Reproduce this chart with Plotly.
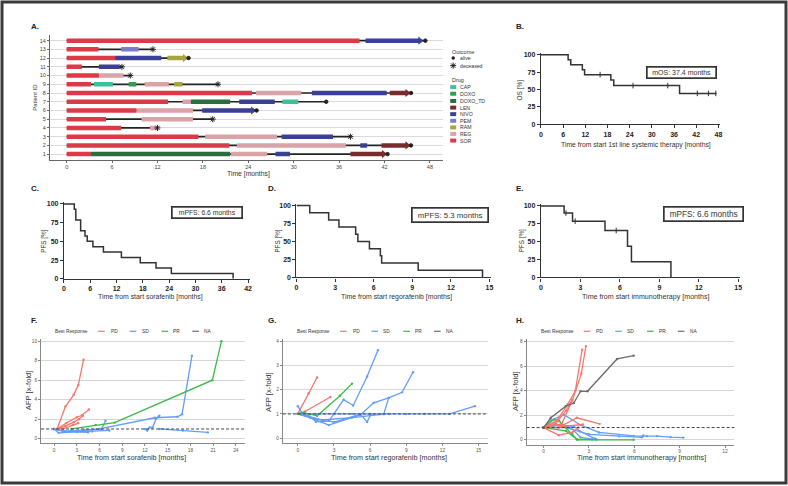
import plotly.graph_objects as go

W, H = 788, 486
FONT = "Liberation Sans, Arial, Helvetica, sans-serif"

# ================= Panel A: swimmer plot =================
patient_ids = list(range(1, 15))
end_time = [42.4, 45.5, 37.5, 12.0, 19.3, 25.1, 34.3, 45.5, 20.0, 8.4, 7.3, 16.1, 11.4, 47.4]
outcome = ["alive", "alive", "deceased", "deceased", "deceased", "alive", "alive",
           "alive", "deceased", "deceased", "deceased", "alive", "deceased", "alive"]
seg_patient = [1, 1, 1, 1, 1, 2, 2, 2, 2, 3, 3, 3, 4, 4, 5, 5, 6, 6, 6,
               7, 7, 7, 7, 7, 8, 8, 8, 8, 9, 9, 9, 9, 9, 10, 10, 11, 11,
               12, 12, 12, 13, 13, 14, 14]
seg_drug = ["SOR", "DOXO_TD", "REG", "NIVO", "LEN",
            "SOR", "REG", "NIVO", "LEN",
            "SOR", "REG", "NIVO",
            "SOR", "REG",
            "SOR", "REG",
            "SOR", "REG", "NIVO",
            "SOR", "REG", "DOXO_TD", "NIVO", "CAP",
            "SOR", "REG", "NIVO", "LEN",
            "SOR", "CAP", "DOXO", "REG", "RAM",
            "SOR", "REG",
            "SOR", "NIVO",
            "SOR", "NIVO", "RAM",
            "SOR", "PEM",
            "SOR", "NIVO"]
seg_start = [0, 3.2, 21.7, 27.6, 37.5,
             0, 22.5, 38.8, 41.6,
             0, 18.3, 28.4,
             0, 11.0,
             0, 9.9,
             0, 9.2, 17.9,
             0, 15.3, 16.4, 22.8, 28.5,
             0, 25.0, 32.4, 42.7,
             0, 3.6, 8.2, 10.3, 14.2,
             0, 4.25,
             0, 4.25,
             0, 6.4, 13.3,
             0, 7.2,
             0, 39.5]
seg_end = [3.2, 21.6, 26.5, 29.5, 41.9,
           21.5, 36.9, 39.7, 45.0,
           17.4, 27.8, 35.2,
           7.2, 11.9,
           5.2, 16.7,
           9.2, 16.7, 24.6,
           13.4, 16.4, 21.6, 27.5, 30.6,
           24.5, 31.0, 42.3, 45.0,
           3.2, 6.1, 9.2, 13.5, 15.3,
           4.25, 7.5,
           2.0, 7.0,
           6.4, 12.5, 15.6,
           4.2, 9.5,
           38.7, 46.7]
ongoing_patients = [1, 2, 6, 8, 12, 14]
drug_order = ["CAP", "DOXO", "DOXO_TD", "LEN", "NIVO", "PEM", "RAM", "REG", "SOR"]
drug_colors = {"CAP": "#3fbf9b", "DOXO": "#2f9e50", "DOXO_TD": "#2a6e3e", "LEN": "#7a2b2b",
               "NIVO": "#3a3f98", "PEM": "#7b7cc9", "RAM": "#a8a53c", "REG": "#d9a3a8",
               "SOR": "#dc3a46"}

# ================= Panel B: overall survival =================
os_time = [0, 7.35, 8.07, 11.2, 11.8, 18.9, 19.7, 37.5, 47.5]
os_surv = [100, 92.9, 85.7, 78.6, 71.4, 63.5, 55.6, 44.4, 44.4]
os_cens_time = [16.0, 24.9, 34.3, 42.3, 45.3, 47.3]
os_cens_surv = [71.4, 55.6, 55.6, 44.4, 44.4, 44.4]

# ================= Panels C-E: PFS =================
sor_time = [0, 2.35, 2.7, 3.8, 4.8, 5.3, 6.6, 9.0, 13.1, 17.4, 21.0, 24.5, 38.6]
sor_surv = [100, 92.9, 78.6, 64.3, 57.1, 50.0, 42.9, 35.7, 28.6, 21.4, 14.3, 7.1, 0]
reg_time = [0, 1.03, 2.5, 3.3, 4.6, 4.77, 5.67, 6.52, 6.62, 9.46, 14.46]
reg_surv = [100, 90, 80, 70, 60, 50, 40, 30, 20, 10, 0]
io_time = [0, 1.76, 2.4, 4.87, 6.58, 6.88, 9.88]
io_surv = [100, 90.0, 78.75, 65.6, 43.75, 21.9, 0]
io_cens_time = [1.9, 2.6, 5.72]
io_cens_surv = [90.0, 78.75, 65.6]

# ================= Panels F-H: AFP x-fold =================
f_pd_x = [[0.4, 1.5, 2.6, 3.2, 3.9], [0.4, 1.6, 3.0, 3.7, 4.6],
          [0.4, 1.5, 2.6, 3.3, 3.8], [0.4, 1.2, 2.5, 3.2]]
f_pd_y = [[1.0, 3.3, 4.5, 5.5, 8.1], [1.0, 1.6, 2.2, 2.4, 3.0],
          [1.0, 1.3, 1.7, 2.0, 2.35], [1.0, 1.0, 1.4, 1.6]]
f_sd_x = [[0, 0.6, 3.0, 5.0, 7.3], [0, 1.2, 3.0, 4.5],
          [0, 1.2, 4.0, 6.26, 6.8], [1.45, 6.0, 13.3, 16.3, 16.9, 18.2],
          [12.0, 12.3, 12.6, 13.0, 13.5, 13.9], [13.9, 17.0, 20.3]]
f_sd_y = [[1.0, 0.6, 0.7, 0.75, 0.85], [1.0, 0.8, 0.7, 0.65],
          [1.0, 0.75, 0.85, 0.98, 1.85], [0.74, 1.0, 2.15, 2.25, 2.5, 8.5],
          [1.0, 0.85, 1.15, 1.15, 2.1, 2.35], [1.0, 0.85, 0.65]]
f_pr_x = [[2.3, 5.5, 8.0, 20.9, 22.1]]
f_pr_y = [[1.0, 1.4, 1.65, 6.0, 10.0]]

g_pd_x = [[0, 0.9, 1.6], [0, 0.6, 2.7]]
g_pd_y = [[1.0, 1.85, 2.5], [1.0, 1.1, 1.7]]
g_pr_x = [[0, 0.5, 1.6, 3.5, 4.5]]
g_pr_y = [[1.0, 1.05, 0.92, 1.75, 2.25]]
g_sd_x = [[0, 0.35, 1.0, 1.5, 2.0, 2.6, 3.8, 4.6, 5.75, 6.65],
          [0, 1.0, 2.57, 5.19, 6.3, 7.54, 8.65, 9.56],
          [0, 1.5, 3.0, 5.2, 5.75, 6.08],
          [0, 2.0, 4.5, 7.13, 7.54],
          [0, 1.5, 3.0, 4.5, 6.0, 7.5, 9.0, 10.5, 12.6, 14.7]]
g_sd_y = [[1.32, 1.05, 0.9, 0.68, 0.68, 0.71, 1.59, 1.35, 2.54, 3.63],
          [1.0, 0.85, 0.54, 0.96, 1.46, 1.66, 1.89, 2.72],
          [1.0, 0.8, 0.66, 0.99, 0.67, 0.99],
          [1.0, 0.75, 0.85, 0.99, 1.66],
          [1.0, 1.0, 1.0, 1.0, 1.0, 1.0, 1.0, 1.0, 1.0, 1.32]]

h_pd_x = [[0, 0.9, 1.6, 2.1, 2.55], [0, 1.2, 1.9, 2.5, 2.8], [0, 0.9, 1.5, 1.9],
          [0, 1.0, 2.2, 3.7], [0, 1.0, 1.9, 2.3], [0, 0.6, 1.3, 2.6]]
h_pd_y = [[1.0, 1.6, 2.9, 4.0, 7.35], [1.0, 1.3, 3.2, 5.4, 7.65], [1.0, 1.5, 2.4, 3.3],
          [1.0, 1.0, 1.8, 1.3], [1.0, 0.38, 0.6, 1.0], [1.0, 1.25, 1.1, 1.25]]
h_sd_x = [[0, 0.5, 1.35, 2.45, 3.66, 5.96, 6.83, 7.5, 8.4, 9.24],
          [0, 0.8, 1.8, 2.45, 3.2], [0, 1.5, 3.0, 5.0, 6.5, 6.6], [0, 1.2, 2.0, 2.4, 3.4]]
h_sd_y = [[1.0, 1.6, 2.05, 1.2, 0.6, 0.32, 0.3, 0.3, 0.22, 0.18],
          [1.0, 1.3, 1.0, 0.2, 0.05], [1.0, 1.0, 0.45, 0.28, 0.2, 0.35], [1.0, 1.2, 1.1, 0.7, 0.1]]
h_pr_x = [[0, 0.7, 1.03, 1.9, 2.23, 5.96], [0, 1.47, 2.2, 3.5]]
h_pr_y = [[1.0, 1.67, 1.54, 0.46, 0.0, 0.0], [1.0, 0.73, 0.05, 0.02]]
h_na_x = [[0, 0.48, 1.47, 2.0, 2.45, 2.9, 4.86, 5.96]]
h_na_y = [[1.0, 1.8, 2.75, 3.0, 3.96, 3.96, 6.6, 6.87]]

resp_names = ["PD", "SD", "PR", "NA"]
resp_colors = {"PD": "#F8766D", "SD": "#619CFF", "PR": "#3DB84A", "NA": "#6b6b6b"}


# ---------------- helpers ----------------
def dx(a, b):
    return [a / W, b / W]


def dy(top, bottom):
    return [1 - bottom / H, 1 - top / H]


fig = go.Figure()
annotations = []
shapes = []


def ann(x, y, text, size=6, xanchor="center", color="#333", angle=0, bold=False, family=FONT):
    annotations.append(dict(x=x / W, y=1 - y / H, xref="paper", yref="paper", text=text,
                            showarrow=False, xanchor=xanchor, yanchor="middle", textangle=angle,
                            font=dict(size=size, color=color, family=family,
                                      weight="bold" if bold else "normal")))


# ---------------- Panel A traces ----------------
for p, e in zip(patient_ids, end_time):
    fig.add_trace(go.Scatter(x=[0, e], y=[p, p], mode="lines", line=dict(color="#222", width=1.7),
                             xaxis="x", yaxis="y", hoverinfo="skip"))
for d in drug_order:
    xs, ys = [], []
    for p, dd, s, e in zip(seg_patient, seg_drug, seg_start, seg_end):
        if dd == d:
            xs += [s, e, None]
            ys += [p, p, None]
    fig.add_trace(go.Scatter(x=xs, y=ys, mode="lines", line=dict(color=drug_colors[d], width=4.5),
                             xaxis="x", yaxis="y", hoverinfo="skip"))
arr_x, arr_y, arr_c = [], [], []
for p in ongoing_patients:
    idx = [i for i, pp in enumerate(seg_patient) if pp == p][-1]
    arr_x.append(seg_end[idx])
    arr_y.append(p)
    arr_c.append(drug_colors[seg_drug[idx]])
fig.add_trace(go.Scatter(x=arr_x, y=arr_y, mode="markers",
                         marker=dict(symbol="triangle-right", size=7, color=arr_c),
                         xaxis="x", yaxis="y", hoverinfo="skip"))
for kind, sym, sz in [("alive", "circle", 3.5), ("deceased", "asterisk-open", 5)]:
    xs = [e for e, o in zip(end_time, outcome) if o == kind]
    ys = [p for p, o in zip(patient_ids, outcome) if o == kind]
    fig.add_trace(go.Scatter(x=xs, y=ys, mode="markers",
                             marker=dict(symbol=sym, size=sz, color="#222", line=dict(color="#222", width=1)),
                             xaxis="x", yaxis="y", hoverinfo="skip"))

# ---------------- KM traces ----------------
KM = "#333"
for t, s, ax in [(os_time, os_surv, "2"), (sor_time, sor_surv, "3"),
                 (reg_time, reg_surv, "4"), (io_time, io_surv, "5")]:
    fig.add_trace(go.Scatter(x=t, y=s, mode="lines", line=dict(color=KM, width=1.5, shape="hv"),
                             xaxis="x" + ax, yaxis="y" + ax, hoverinfo="skip"))
for t, s, ax in [(os_cens_time, os_cens_surv, "2"), (io_cens_time, io_cens_surv, "5")]:
    fig.add_trace(go.Scatter(x=t, y=s, mode="markers",
                             marker=dict(symbol="line-ns-open", size=4, color=KM,
                                         line=dict(color=KM, width=1)),
                             xaxis="x" + ax, yaxis="y" + ax, hoverinfo="skip", cliponaxis=False))

# ---------------- AFP traces ----------------
afp_sets = [
    ("6", [("PD", f_pd_x, f_pd_y), ("SD", f_sd_x, f_sd_y), ("PR", f_pr_x, f_pr_y)]),
    ("7", [("PD", g_pd_x, g_pd_y), ("SD", g_sd_x, g_sd_y), ("PR", g_pr_x, g_pr_y)]),
    ("8", [("SD", h_sd_x, h_sd_y), ("PR", h_pr_x, h_pr_y), ("PD", h_pd_x, h_pd_y),
           ("NA", h_na_x, h_na_y)]),
]
for ax, groups in afp_sets:
    for resp, xl, yl in groups:
        for xs, ys in zip(xl, yl):
            fig.add_trace(go.Scatter(x=xs, y=ys, mode="lines+markers",
                                     line=dict(color=resp_colors[resp], width=1.3),
                                     marker=dict(size=2.4, color=resp_colors[resp]),
                                     xaxis="x" + ax, yaxis="y" + ax, hoverinfo="skip"))

# ---------------- overlay axis for legend glyphs ----------------
fig.add_trace(go.Scatter(x=[453.5], y=[56.7], mode="markers",
                         marker=dict(symbol="circle", size=3.5, color="#222"),
                         xaxis="x9", yaxis="y9", hoverinfo="skip"))
fig.add_trace(go.Scatter(x=[453.5], y=[64.3], mode="markers",
                         marker=dict(symbol="asterisk-open", size=5, color="#222",
                                     line=dict(color="#222", width=1)),
                         xaxis="x9", yaxis="y9", hoverinfo="skip"))

# ---------------- layout / axes ----------------
layout = dict(width=W, height=H, margin=dict(l=0, r=0, t=0, b=0), paper_bgcolor="white",
              plot_bgcolor="rgba(0,0,0,0)", showlegend=False, font=dict(family=FONT, color="#333"))

layout["xaxis"] = dict(domain=dx(48.3, 443), range=[-2.2, 49.7], anchor="y",
                       tickvals=[0, 6, 12, 18, 24, 30, 36, 42, 48], ticks="outside", ticklen=2,
                       tickcolor="#666", showline=True, linecolor="#666", linewidth=1.2,
                       showgrid=False, zeroline=False, tickfont=dict(size=5.5, color="#444"))
layout["yaxis"] = dict(domain=dy(33.3, 159.3), range=[0.365, 14.65], anchor="x",
                       tickvals=patient_ids, ticks="outside", ticklen=2, tickcolor="#666",
                       showline=True, linecolor="#666", linewidth=1.2, showgrid=True,
                       gridcolor="#dadada", gridwidth=1, zeroline=False,
                       tickfont=dict(size=5.5, color="#444"))


def km_axes(n, xd, yd, xr, xt):
    layout["xaxis" + n] = dict(domain=xd, range=xr, anchor="y" + n, tickvals=xt, ticks="outside",
                               ticklen=3, tickwidth=1, tickcolor=KM, showline=True, linecolor=KM,
                               linewidth=1.3, showgrid=False, zeroline=False,
                               tickfont=dict(size=7, color="#222", weight="bold"))
    layout["yaxis" + n] = dict(domain=yd, range=[0, 102], anchor="x" + n,
                               tickvals=[0, 25, 50, 75, 100], ticks="outside", ticklen=3,
                               tickwidth=1, tickcolor=KM, showline=True, linecolor=KM,
                               linewidth=1.3, showgrid=False, zeroline=False,
                               tickfont=dict(size=7, color="#222", weight="bold"))


km_axes("2", dx(541.7, 721.9), dy(51.9, 123.5), [0, 48.5], list(range(0, 49, 6)))
km_axes("3", dx(62.3, 249.5), dy(202.5, 279.7), [0, 42.5], list(range(0, 43, 6)))
km_axes("4", dx(296, 491.9), dy(204.2, 278.3), [0, 15.15], list(range(0, 16, 3)))
km_axes("5", dx(541.7, 742), dy(204.6, 278.3), [0, 15.15], list(range(0, 16, 3)))


def afp_axes(n, xd, yd, xr, yr, xt, yt):
    layout["xaxis" + n] = dict(domain=xd, range=xr, anchor="y" + n, tickvals=xt, ticks="outside",
                               ticklen=2, tickcolor="#888", showline=True, linecolor="#888",
                               linewidth=1, showgrid=False, zeroline=False,
                               tickfont=dict(size=4.8, color="#555"))
    layout["yaxis" + n] = dict(domain=yd, range=yr, anchor="x" + n, tickvals=yt, ticks="outside",
                               ticklen=2, tickcolor="#888", showline=True, linecolor="#888",
                               linewidth=1, showgrid=True, gridcolor="#d6d6d6", gridwidth=1.4,
                               zeroline=False, tickfont=dict(size=4.8, color="#555"))
    shapes.append(dict(type="line", xref="x%s domain" % n, yref="y" + n, x0=0, x1=1, y0=1, y1=1,
                       line=dict(color="#444", width=1, dash="3px,2px")))


afp_axes("6", dx(39.3, 244), dy(340, 446), [-1.71, 25.18], [-0.48, 10.27],
         list(range(0, 25, 3)), [0, 2, 4, 6, 8, 10])
afp_axes("7", dx(282.3, 488.3), dy(340, 446), [-1.24, 15.77], [-0.216, 4.11],
         list(range(0, 16, 3)), [0, 1, 2, 3, 4])
afp_axes("8", dx(527.3, 736), dy(340, 447.3), [-1.12, 12.61], [-0.40, 8.27],
         [0, 3, 6, 9, 12], [0, 2, 4, 6, 8])

layout["xaxis9"] = dict(domain=[0, 1], range=[0, W], anchor="y9", visible=False, fixedrange=True)
layout["yaxis9"] = dict(domain=[0, 1], range=[H, 0], anchor="x9", visible=False, fixedrange=True)

# ---------------- text annotations ----------------
for lab, x, y in [("A.", 26.7, 25), ("B.", 515, 25), ("C.", 26.7, 188.3), ("D.", 265, 188.3),
                  ("E.", 515, 188.3), ("F.", 26.7, 321.7), ("G.", 265, 321.7), ("H.", 515, 321.7)]:
    ann(x, y, lab, size=8, xanchor="left", bold=True, color="#222")

ann(248, 173.3, "Time [months]", size=6.8, color="#333")
ann(33, 96, "Patient ID", size=6, angle=-90, color="#333")
ann(450.5, 50.7, "Outcome", size=5.5, xanchor="left")
ann(458.3, 56.7, "alive", size=5.2, xanchor="left")
ann(458.3, 64.3, "deceased", size=5.2, xanchor="left")
ann(450.5, 79, "Drug", size=5.5, xanchor="left")
leg_y = [86, 92.7, 100, 106.7, 113.3, 120, 126.7, 133.3, 140]
for d, yy in zip(drug_order, leg_y):
    shapes.append(dict(type="rect", xref="paper", yref="paper", x0=450.5 / W, x1=456.5 / W,
                       y0=1 - (yy + 2) / H, y1=1 - (yy - 2) / H, fillcolor=drug_colors[d],
                       line=dict(width=0)))
    ann(458.3, yy, d, size=5.2, xanchor="left")

ann(637.3, 144, "Time from start 1st line systemic therapy [months]", size=6.8)
ann(521, 89, "OS [%]", size=6.5, angle=-90)
ann(149, 297.7, "Time from start sorafenib [months]", size=6.9)
ann(396.7, 297.7, "Time from start regorafenib [months]", size=6.9)
ann(646.3, 298.3, "Time from start immunotherapy [months]", size=7.1)
for x in [42, 277, 523]:
    ann(x, 241.5, "PFS [%]", size=6.3, angle=-90)

for cx, cy, w, h, txt, sz in [(682.5, 71, 68, 10, "mOS: 37.4 months", 7),
                              (206, 213, 69, 10, "mPFS: 6.6 months", 6.8),
                              (450, 215.3, 75, 13, "mPFS: 5.3 months", 7.8),
                              (705.5, 214.7, 78, 13, "mPFS: 6.6 months", 8.2)]:
    annotations.append(dict(x=cx / W, y=1 - cy / H, xref="paper", yref="paper", text=txt,
                            showarrow=False, xanchor="center", yanchor="middle", width=w, height=h,
                            borderpad=0, bordercolor="#333", borderwidth=1.7, bgcolor="white",
                            font=dict(size=sz, color="#333", family=FONT)))

for cx, txt in [(130, "Time from start sorafenib [months]"),
                (389, "Time from start regorafenib [months]"),
                (642.3, "Time from start immunotherapy [months]")]:
    ann(cx, 460.5, txt, size=7.2, color="#333")
for x, y in [(27.3, 392), (268.3, 394), (516.7, 393)]:
    ann(x, y, "AFP [x-fold]", size=7.6, angle=-90, color="#333")

for L in [39.3, 282.3, 527.3]:
    ann(L + 12.4, 332.7, "Best Response", size=4.8, xanchor="left", color="#333")
    for r, lx, tx in zip(resp_names, [57.4, 89, 121, 152], [68, 99, 131, 162]):
        shapes.append(dict(type="line", xref="paper", yref="paper", x0=(L + lx) / W,
                           x1=(L + lx + 6.6) / W, y0=1 - 332.7 / H, y1=1 - 332.7 / H,
                           line=dict(color=resp_colors[r], width=1.2)))
        ann(L + tx, 332.7, r, size=4.8, xanchor="left", color="#333")

shapes.append(dict(type="rect", xref="paper", yref="paper", x0=0, x1=1, y0=0, y1=1,
                   line=dict(color="#3a3a3a", width=3)))

layout["annotations"] = annotations
layout["shapes"] = shapes
fig.update_layout(**layout)
fig.write_html("out.html", config={"displayModeBar": False},
               post_script="document.body.style.margin='0';document.body.style.overflow='hidden';")
